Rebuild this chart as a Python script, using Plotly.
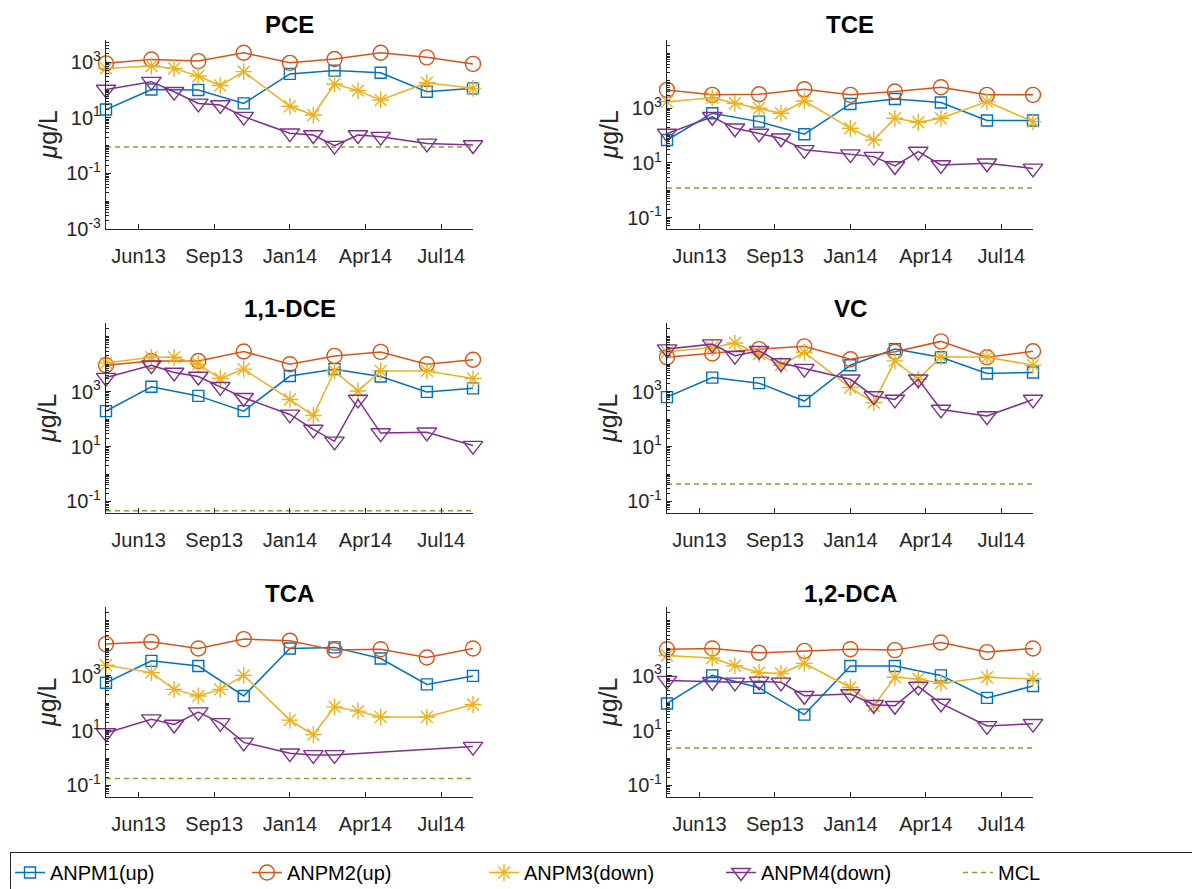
import plotly.graph_objects as go

# ---------------- data ----------------
panels = ["PCE", "TCE", "1,1-DCE", "VC", "TCA", "1,2-DCA"]
series_names = ["ANPM1(up)", "ANPM2(up)", "ANPM3(down)", "ANPM4(down)"]
y_title = "<i>μ</i>g/L"

# sampling dates: upgradient wells (9 events) and downgradient wells (13 events)
dates_up = ["2013-05-03", "2013-07-02", "2013-09-02", "2013-11-01", "2014-01-01",
            "2014-03-01", "2014-05-01", "2014-07-01", "2014-08-31"]
dates_down = ["2013-05-03", "2013-07-02", "2013-08-01", "2013-09-02", "2013-10-01",
              "2013-11-01", "2014-01-01", "2014-02-01", "2014-03-01", "2014-04-01",
              "2014-05-01", "2014-07-01", "2014-08-31"]

tick_dates = ["2013-06-15", "2013-09-23", "2014-01-01", "2014-04-11", "2014-07-20"]
tick_labels = ["Jun13", "Sep13", "Jan14", "Apr14", "Jul14"]

pce_anpm1 = [20, 105, 100, 33, 380, 500, 420, 87, 115]
pce_anpm2 = [910, 1260, 1100, 2200, 950, 1300, 2200, 1500, 870]
pce_anpm3 = [600, 730, 600, 320, 145, 460, 26, 12.6, 165, 95, 44, 183, 115]
pce_anpm4 = [105, 200, 87, 33, 29, 11, 2.8, 2.4, 1.0, 2.4, 2.1, 1.2, 1.05]
pce_mcl = 0.9

tce_anpm1 = [69, 660, 325, 112, 1440, 2200, 1620, 355, 355]
tce_anpm2 = [4700, 3100, 3250, 5000, 3100, 4100, 5900, 3100, 3100]
tce_anpm3 = [1750, 2450, 1520, 1000, 660, 1850, 185, 69, 430, 308, 430, 1750, 325]
tce_anpm4 = [120, 490, 185, 120, 80, 30, 21, 17, 7.7, 26, 8.4, 9.7, 6.3]
tce_mcl = 1.2

dce11_anpm1 = [195, 1500, 700, 195, 3700, 6600, 3550, 980, 1320]
dce11_anpm2 = [9200, 13000, 13000, 29000, 10000, 20000, 28000, 10000, 14500]
dce11_anpm3 = [11000, 17800, 17800, 10000, 3000, 6600, 520, 135, 5700, 1050, 5700, 5700, 3000]
dce11_anpm4 = [3250, 9200, 5000, 3550, 1500, 600, 148, 42, 15.5, 520, 31, 33, 10.8]
dce11_mcl = 0.046

vc_anpm1 = [630, 3250, 2040, 455, 9200, 35500, 17800, 4560, 5000]
vc_anpm2 = [17800, 24500, 35500, 44700, 15100, 28200, 67600, 17800, 29500]
vc_anpm3 = [28200, 40700, 58900, 23400, 9200, 26900, 1410, 400, 13200, 2820, 18600, 17800, 9200]
vc_anpm4 = [35500, 53700, 20400, 30900, 11000, 6900, 2820, 690, 520, 2820, 225, 129, 520]
vc_mcl = 0.43

tca_anpm1 = [550, 3460, 2240, 182, 9800, 10700, 4200, 480, 980]
tca_anpm2 = [14100, 17000, 9800, 21400, 18600, 8500, 9200, 4600, 9800]
tca_anpm3 = [2400, 1290, 316, 182, 316, 1020, 24, 7.1, 73, 51, 31, 31, 89]
tca_anpm4 = [8.1, 26, 16.6, 47, 19, 3.7, 1.5, 1.3, 1.3, None, None, None, 2.6]
tca_mcl = 0.18

dca12_anpm1 = [97, 1020, 360, 38, 2240, 2240, 1020, 155, 420]
dca12_anpm2 = [9200, 9800, 6800, 8000, 9200, 8500, 16200, 7200, 9800]
dca12_anpm3 = [5400, 4400, 2300, 1300, 1200, 2800, 370, 80, 870, 760, 525, 870, 760]
dca12_anpm4 = [660, 600, 570, 620, 570, 185, 215, 87, 80, 400, 97, 14.8, 17.8]
dca12_mcl = 2.3

panel_data = [
    (pce_anpm1, pce_anpm2, pce_anpm3, pce_anpm4, pce_mcl),
    (tce_anpm1, tce_anpm2, tce_anpm3, tce_anpm4, tce_mcl),
    (dce11_anpm1, dce11_anpm2, dce11_anpm3, dce11_anpm4, dce11_mcl),
    (vc_anpm1, vc_anpm2, vc_anpm3, vc_anpm4, vc_mcl),
    (tca_anpm1, tca_anpm2, tca_anpm3, tca_anpm4, tca_mcl),
    (dca12_anpm1, dca12_anpm2, dca12_anpm3, dca12_anpm4, dca12_mcl),
]

# ---------------- styling ----------------
colors = ["#0072BD", "#D95319", "#EDB120", "#7E2F8E"]
mcl_color = "#77AC30"
symbols = ["square-open", "circle-open", "asterisk-open", "triangle-down-open"]
msizes = [11, 15, 14, 17]
FONT = "Liberation Sans, Arial, Helvetica, sans-serif"
AX = "#262626"

W, H = 1200, 889
OFF = 8  # page body margin offset
col_x = [(106, 473), (667, 1033)]
ytitle_x = [47, 608]
row_y = [(40, 229), (323, 513), (607, 797)]
title_y = [24, 308, 593]


def px(v):
    return v - OFF


fig = go.Figure()

for i, name in enumerate(panels):
    r, c = divmod(i, 2)
    n = i + 1
    xa = "x" if n == 1 else f"x{n}"
    ya = "y" if n == 1 else f"y{n}"
    a1, a2, a3, a4, mcl = panel_data[i]
    vals = [a1, a2, a3, a4]
    xs = [dates_up, dates_up, dates_down, dates_down]
    for k in range(4):
        fig.add_trace(go.Scatter(
            x=xs[k], y=vals[k], mode="lines+markers", name=series_names[k],
            legendgroup=series_names[k], showlegend=(i == 0),
            line=dict(color=colors[k], width=1.5),
            marker=dict(symbol=symbols[k], size=msizes[k], color=colors[k],
                        line=dict(color=colors[k], width=1.4)),
            connectgaps=True, cliponaxis=False, xaxis=xa, yaxis=ya))
    fig.add_trace(go.Scatter(
        x=[dates_up[0], dates_up[-1]], y=[mcl, mcl], mode="lines", name="MCL",
        legendgroup="MCL", showlegend=(i == 0),
        line=dict(color=mcl_color, width=1.5, dash="5px,4px"),
        xaxis=xa, yaxis=ya))

    x0, x1 = px(col_x[c][0]), px(col_x[c][1])
    yt, yb = px(row_y[r][0]), px(row_y[r][1])
    if i == 0:
        yrange = [-3, 3.8]
        ytv = [1e-3, 1e-1, 1e1, 1e3]
        ytt = ["10<sup>-3</sup>", "10<sup>-1</sup>", "10<sup>1</sup>", "10<sup>3</sup>"]
        dec = range(-3, 4)
    else:
        yrange = [-1.42, 5.5]
        ytv = [1e-1, 1e1, 1e3]
        ytt = ["10<sup>-1</sup>", "10<sup>1</sup>", "10<sup>3</sup>"]
        dec = range(-2, 6)
    minor_vals = [m * 10 ** d for d in dec for m in range(1, 10)]

    xkey = "xaxis" if n == 1 else f"xaxis{n}"
    ykey = "yaxis" if n == 1 else f"yaxis{n}"
    fig.layout[xkey] = dict(
        domain=[x0 / W, x1 / W], anchor=ya, type="date",
        range=[dates_up[0], dates_up[-1]],
        tickmode="array", tickvals=tick_dates, ticktext=tick_labels,
        ticks="inside", ticklen=5, tickcolor=AX, showline=True, linecolor=AX,
        linewidth=1.2, showgrid=False, zeroline=False, ticklabelstandoff=9,
        automargin=False,
        tickfont=dict(family=FONT, size=20, color=AX))
    fig.layout[ykey] = dict(
        domain=[1 - yb / H, 1 - yt / H], anchor=xa, type="log", range=yrange,
        tickmode="array", tickvals=ytv, ticktext=ytt,
        ticks="inside", ticklen=5, tickcolor=AX, showline=True, linecolor=AX,
        linewidth=1.2, showgrid=False, zeroline=False, automargin=False,
        minor=dict(tickmode="array", tickvals=minor_vals, ticks="inside",
                   ticklen=3, tickwidth=1, tickcolor=AX, showgrid=False),
        tickfont=dict(family=FONT, size=20, color=AX))
    # subplot title
    fig.add_annotation(
        text=f"<b>{name}</b>", x=(x0 + x1) / 2 / W, y=1 - px(title_y[r]) / H,
        xref="paper", yref="paper", xanchor="center", yanchor="middle",
        showarrow=False, font=dict(family=FONT, size=24, color="black"))
    # y-axis title
    fig.add_annotation(
        text=y_title, x=px(ytitle_x[c]) / W, y=1 - (yt + yb) / 2 / H,
        xref="paper", yref="paper", xanchor="center", yanchor="middle",
        textangle=-90, showarrow=False,
        font=dict(family=FONT, size=25, color=AX))

fig.update_layout(
    width=W, height=H, margin=dict(l=0, r=0, t=0, b=0),
    paper_bgcolor="white", plot_bgcolor="white",
    font=dict(family=FONT, color=AX),
    legend=dict(orientation="h", x=px(10) / W, y=1 - px(852) / H,
                xanchor="left", yanchor="top",
                bordercolor=AX, borderwidth=1, bgcolor="white",
                entrywidth=192, entrywidthmode="pixels",
                font=dict(family=FONT, size=20, color="black")),
)

fig.write_html("out.html")
